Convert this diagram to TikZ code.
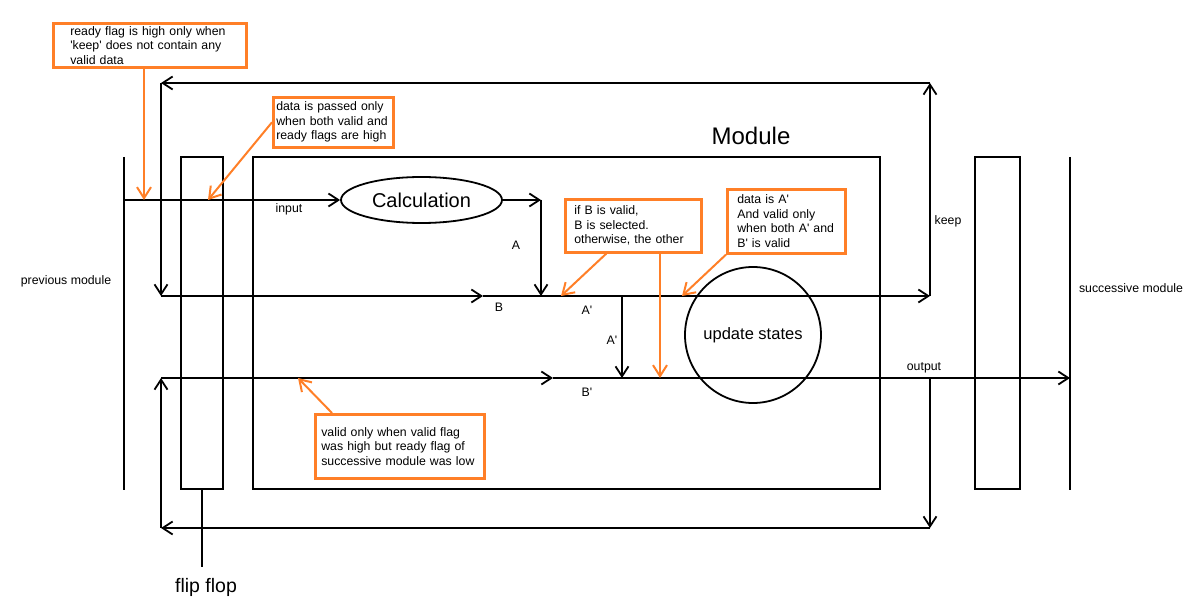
\documentclass[tikz,border=0pt]{standalone}
\usepackage{fontspec}
\setmainfont{Liberation Sans}
\usetikzlibrary{arrows.meta,positioning,shapes.geometric}
\definecolor{notec}{HTML}{FF7F27}

\begin{document}
\begin{tikzpicture}[x=1pt,y=-1pt,
    wire/.style={line width=1.8pt},
    arr/.style={wire,-{Straight Barb[length=10pt,width=13pt]}},
    blk/.style={draw,line width=2.2pt,inner sep=0pt,minimum height=332pt},
    lbl/.style={font=\fontsize{12.3}{14}\selectfont},
    note/.style={draw=notec,line width=2.6pt,fill=white,align=left,
                 anchor=north west,inner ysep=1pt,font=\fontsize{12.3}{14.5}\selectfont},
    narr/.style={notec,line width=2pt,-{Straight Barb[length=11pt,width=14pt]}},
  ]
  \useasboundingbox (0,0) rectangle (1195,609);

  % modules and flip flops
  \node[blk,minimum width=42pt] (ffl) at (202,323) {};
  \node[blk,minimum width=627pt] (mod) at (566.5,323) {};
  \node[blk,minimum width=45pt] (ffr) at (997.5,323) {};
  \node[font=\fontsize{24}{28}\selectfont] (modlbl) at (751,136) {Module};
  \coordinate (prevtop) at (124,157);
  \coordinate (prevbot) at (124,490);
  \coordinate (succtop) at (1070,157);
  \coordinate (succbot) at (1070,490);
  \draw[wire] (prevtop) -- (prevbot);
  \draw[wire] (succtop) -- (succbot);
  \node[lbl] (prevlbl) at (66,281) {previous module};
  \node[lbl] (succlbl) at (1131,288) {successive module};
  \coordinate (ffstem) at (202,567);
  \draw[wire] (ffl.south) -- (ffstem);
  \node[font=\fontsize{19.5}{22}\selectfont] (fflbl) at (206,587) {flip flop};

  % inner blocks
  \node[draw,ellipse,line width=1.8pt,minimum width=161pt,minimum height=46pt,
        font=\fontsize{20}{24}\selectfont] (calc) at (421.5,200) {Calculation};
  \node[draw,circle,line width=1.8pt,minimum size=136pt,
        font=\fontsize{16.5}{20}\selectfont] (upd) at (753,335) {update states};

  % wire points
  \coordinate (in0) at (124,200);
  \coordinate (acorner) at (541,200);
  \coordinate (amerge) at (541,296);
  \coordinate (bstart) at (161,296);
  \coordinate (bmid) at (483,296);
  \coordinate (asplit) at (622,296);
  \coordinate (keepj) at (930,296);
  \coordinate (keeptop) at (930,83);
  \coordinate (fbtop) at (161,83);
  \coordinate (cstart) at (161,378);
  \coordinate (cmid) at (553,378);
  \coordinate (ajoin) at (622,378);
  \coordinate (outj) at (930,378);
  \coordinate (outend) at (1070,378);
  \coordinate (fbbotr) at (930,528);
  \coordinate (fbbotl) at (161,528);

  % data path
  \draw[arr] (in0) -- (calc.west);
  \draw[arr] (calc.east) -- (acorner);
  \draw[arr] (acorner) -- (amerge);
  \draw[arr] (bstart) -- (bmid);
  \draw[arr] (bmid) -- (keepj);
  \draw[arr] (asplit) -- (ajoin);
  \draw[arr] (cstart) -- (cmid);
  \draw[arr] (cmid) -- (outend);

  % keep loop (top) and output loop (bottom)
  \draw[arr] (keepj) -- (keeptop);
  \draw[arr] (keeptop) -- (fbtop);
  \draw[arr] (fbtop) -- (bstart);
  \draw[arr] (outj) -- (fbbotr);
  \draw[arr] (fbbotr) -- (fbbotl);
  \draw[arr] (fbbotl) -- (cstart);

  % wire labels
  \node[lbl] (inlbl) at (289,209) {input};
  \node[lbl] (albl) at (516,245) {A};
  \node[lbl] (blbl) at (499,307) {B};
  \node[lbl] (a1lbl) at (587,310) {A\textquotesingle};
  \node[lbl] (a2lbl) at (612,340) {A\textquotesingle};
  \node[lbl] (b1lbl) at (587,392) {B\textquotesingle};
  \node[lbl] (outlbl) at (924,368) {output};
  \node[lbl] (keeplbl) at (948,221) {keep};

  % notes
  \node[note,inner xsep=17pt,text width=159pt,minimum height=44pt] (n1) at (52,22)
    {ready flag is high only when\\\textquotesingle keep\textquotesingle{} does not contain any\\valid data};
  \node[note,inner xsep=3pt,text width=114pt,minimum height=50pt] (n2) at (272,96)
    {data is passed only\\when both valid and\\ready flags are high};
  \node[note,inner xsep=9pt,text width=118pt,minimum height=53pt] (n3) at (564,198)
    {if B is valid,\\B is selected.\\otherwise, the other};
  \node[note,inner xsep=10pt,text width=98pt,minimum height=64pt] (n4) at (726,188)
    {data is A\textquotesingle\\And valid only\\when both A\textquotesingle{} and\\B\textquotesingle{} is valid};
  \node[note,inner xsep=6pt,text width=157pt,minimum height=64pt] (n5) at (314,413)
    {valid only when valid flag\\was high but ready flag of\\successive module was low};

  \coordinate (rdy) at (144,200);
  \coordinate (pass) at (208,200);
  \coordinate (selB) at (561,296);
  \coordinate (selout) at (660,378);
  \coordinate (dataA) at (682,296);
  \coordinate (kept) at (298,378);
  \draw[narr] (n1.south -| rdy) -- (rdy);
  \draw[narr] (n2.west) -- (pass);
  \draw[narr] ([xshift=-27pt]n3.south) -- (selB);
  \draw[narr] (n3.south -| selout) -- (selout);
  \draw[narr] (n4.south west) -- (dataA);
  \draw[narr] ([xshift=18pt]n5.north west) -- (kept);
\end{tikzpicture}
\end{document}
